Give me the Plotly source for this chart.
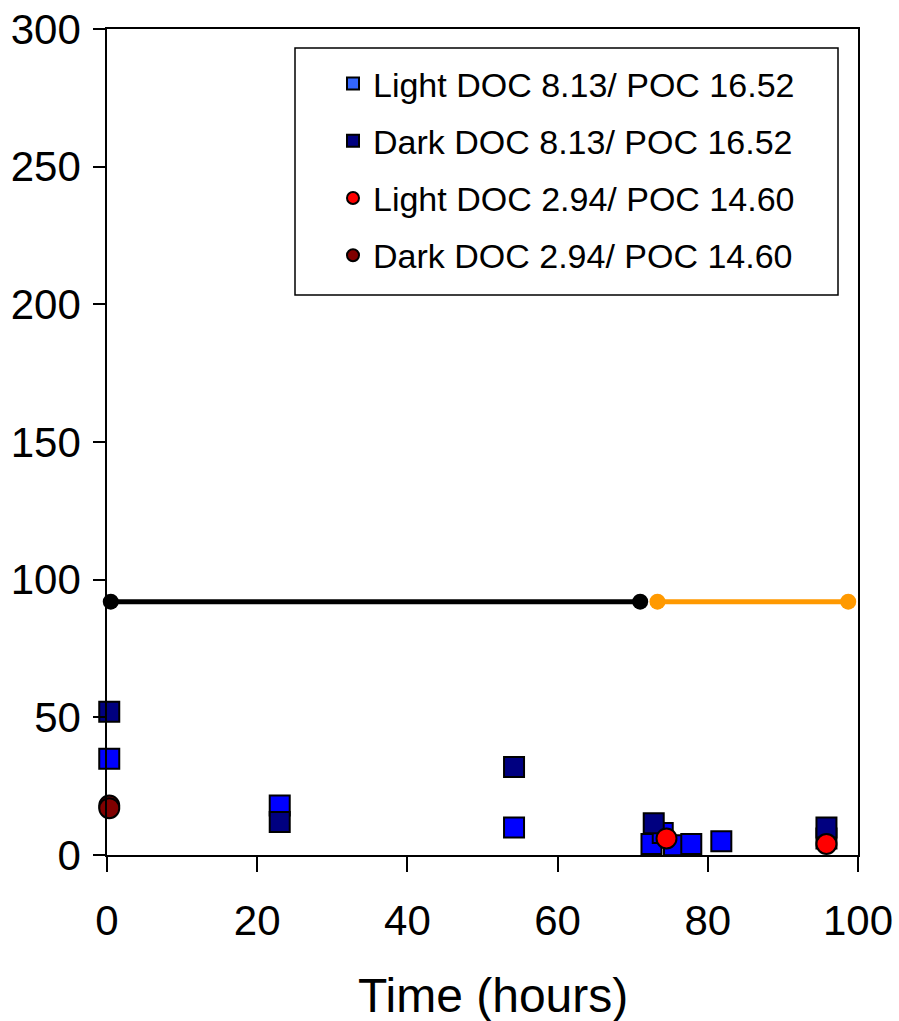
import plotly.graph_objects as go

# ---- data ----
light_816_x = [0.3, 23.0, 54.2, 72.5, 74.0, 75.5, 77.8, 81.8, 95.8]
light_816_y = [35, 18, 10, 4, 8, 3.5, 4, 5, 6]
dark_816_x = [0.3, 23.0, 54.2, 72.8, 95.8]
dark_816_y = [52, 12, 32, 11.5, 10]
light_294_x = [74.5, 95.8]
light_294_y = [6, 4]
dark_294_x = [0.3, 0.3]
dark_294_y = [18, 17]
period1_x = [0.5, 71.0]
period1_y = [92, 92]
period2_x = [73.3, 98.7]
period2_y = [92, 92]

names = ["Light DOC 8.13/ POC 16.52", "Dark DOC 8.13/ POC 16.52",
         "Light DOC 2.94/ POC 14.60", "Dark DOC 2.94/ POC 14.60"]
x_title = "Time (hours)"

FONT = "Liberation Sans, Arial, sans-serif"
W, H = 899, 1021
ML, MR, MT, MB = 107, 41, 29, 166

fig = go.Figure()

# period lines
fig.add_trace(go.Scatter(x=period1_x, y=period1_y, mode="lines+markers",
                         line=dict(color="black", width=5),
                         marker=dict(color="black", size=16),
                         showlegend=False, cliponaxis=False))
fig.add_trace(go.Scatter(x=period2_x, y=period2_y, mode="lines+markers",
                         line=dict(color="#FF9900", width=5),
                         marker=dict(color="#FF9900", size=16),
                         showlegend=False, cliponaxis=False))

sq_line = dict(color="black", width=2)
# data traces
fig.add_trace(go.Scatter(x=light_816_x, y=light_816_y, mode="markers",
                         marker=dict(symbol="square", size=20, color="#0000FF", line=sq_line),
                         showlegend=False, cliponaxis=False))
fig.add_trace(go.Scatter(x=dark_816_x, y=dark_816_y, mode="markers",
                         marker=dict(symbol="square", size=20, color="#000080", line=sq_line),
                         showlegend=False, cliponaxis=False))
fig.add_trace(go.Scatter(x=dark_294_x, y=dark_294_y, mode="markers",
                         marker=dict(symbol="circle", size=20, color="#800000", line=sq_line),
                         showlegend=False, cliponaxis=False))
fig.add_trace(go.Scatter(x=light_294_x, y=light_294_y, mode="markers",
                         marker=dict(symbol="circle", size=20, color="#FF0000", line=sq_line),
                         showlegend=False, cliponaxis=False))

# legend entries
leg_styles = [("square", "#3366FF"), ("square", "#000080"),
              ("circle", "#FF0000"), ("circle", "#800000")]
for i, (nm, (sym, col)) in enumerate(zip(names, leg_styles)):
    fig.add_trace(go.Scatter(x=[None], y=[None], mode="markers", name=nm,
                             legendgroup=f"g{i}",
                             marker=dict(symbol=sym, size=17, color=col,
                                         line=dict(color="black", width=1.5))))

pw = W - ML - MR
ph = H - MT - MB

def px_x(p):
    return (p - ML) / pw

def px_y(p):
    return 1 - (p - MT) / ph

# legend box
fig.add_shape(type="rect", xref="paper", yref="paper",
              x0=px_x(295), x1=px_x(838), y0=px_y(295), y1=px_y(48),
              line=dict(color="black", width=1.5), fillcolor="rgba(0,0,0,0)")

# x axis title
fig.add_annotation(text=x_title, xref="paper", yref="paper",
                   x=px_x(493), y=px_y(995), xanchor="center", yanchor="middle",
                   showarrow=False, font=dict(size=48, family=FONT, color="black"))

fig.update_layout(
    width=W, height=H,
    margin=dict(l=ML, r=MR, t=MT, b=MB),
    paper_bgcolor="white", plot_bgcolor="white",
    font=dict(family=FONT, color="black"),
    showlegend=True,
    legend=dict(x=px_x(333), y=px_y(55), xanchor="left", yanchor="top",
                bgcolor="rgba(0,0,0,0)", borderwidth=0,
                font=dict(size=34, family=FONT, color="black"),
                tracegroupgap=10, itemsizing="constant"),
    xaxis=dict(range=[0, 100], tickvals=[0, 20, 40, 60, 80, 100],
               showgrid=False, zeroline=False, automargin=False,
               showline=True, linecolor="black", linewidth=1.5, mirror=True,
               ticks="outside", ticklen=15, tickwidth=1.5, tickcolor="black",
               tickfont=dict(size=42, family=FONT),
               ticklabelstandoff=13),
    yaxis=dict(range=[0, 300], tickvals=[0, 50, 100, 150, 200, 250, 300],
               showgrid=False, zeroline=False, automargin=False,
               showline=True, linecolor="black", linewidth=1.5, mirror=True,
               ticks="outside", ticklen=12, tickwidth=1.5, tickcolor="black",
               tickfont=dict(size=42, family=FONT),
               ticklabelstandoff=4),
)

fig.write_html("out.html")
